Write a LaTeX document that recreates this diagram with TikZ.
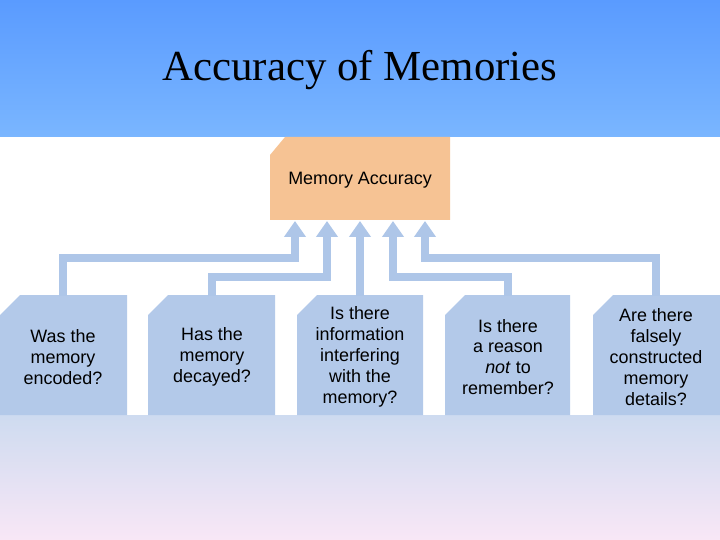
\documentclass[tikz,border=0pt]{standalone}
\usepackage{fontspec}
\setmainfont{Liberation Serif}
\newfontfamily\arialf{Liberation Sans}
\usetikzlibrary{arrows.meta}
\definecolor{topA}{HTML}{5A9BFF}
\definecolor{topB}{HTML}{7AB6FF}
\definecolor{botA}{HTML}{CEDBF0}
\definecolor{botB}{HTML}{F8E7F6}
\definecolor{qbox}{HTML}{B3C9E9}
\definecolor{conn}{HTML}{AEC6E8}
\definecolor{peach}{HTML}{F6C394}
\begin{document}
\begin{tikzpicture}[x=1bp,y=-1bp,
  qtext/.style={font=\arialf\fontsize{18}{21}\selectfont,align=center,text=black},
  link/.style={conn,line width=8bp,-{Triangle[width=21bp,length=16bp]}}]
\useasboundingbox (0,0) rectangle (720,540);
\fill[white] (0,0) rectangle (720,540);
\shade[top color=topA,bottom color=topB] (0,0) rectangle (720,137);
\shade[top color=botA,bottom color=botB] (0,415) rectangle (720,540);
\node[font=\fontsize{43}{50}\selectfont] (title) at (360,70) {Accuracy of Memories};
% target box
\fill[peach] (270,155) -- (285,137) -- (450,137) -- (450,220) -- (270,220) -- cycle;
\node[qtext] (acc) at (360,180) {Memory Accuracy};
\coordinate (accb1) at (295,221);
\coordinate (accb2) at (327,221);
\coordinate (accb3) at (360,221);
\coordinate (accb4) at (393,221);
\coordinate (accb5) at (425,221);
% question boxes
\foreach \a/\b/\n in {0/127/1,148/275/2,297/423/3,445/570/4,593/720/5}{
  \fill[qbox] (\a,315) -- (\a+20,295) -- (\b,295) -- (\b,415) -- (\a,415) -- cycle;
}
\node[qtext] (q1) at (63,357) {Was the\\memory\\encoded?};
\node[qtext] (q2) at (212,357) {Has the\\memory\\decayed?};
\node[qtext] (q3) at (360,357) {Is there\\information\\interfering\\with the\\memory?};
\node[qtext] (q4) at (508,357) {Is there\\a reason\\\textit{not} to\\remember?};
\node[qtext] (q5) at (656,357) {Are there\\falsely\\constructed\\memory\\details?};
% connectors
\draw[link] (63,296) |- (295,258) -- (accb1);
\draw[link] (212,296) |- (327,277) -- (accb2);
\draw[link] (360,296) -- (accb3);
\draw[link] (508,296) |- (393,277) -- (accb4);
\draw[link] (656,296) |- (425,258) -- (accb5);
\end{tikzpicture}
\end{document}
